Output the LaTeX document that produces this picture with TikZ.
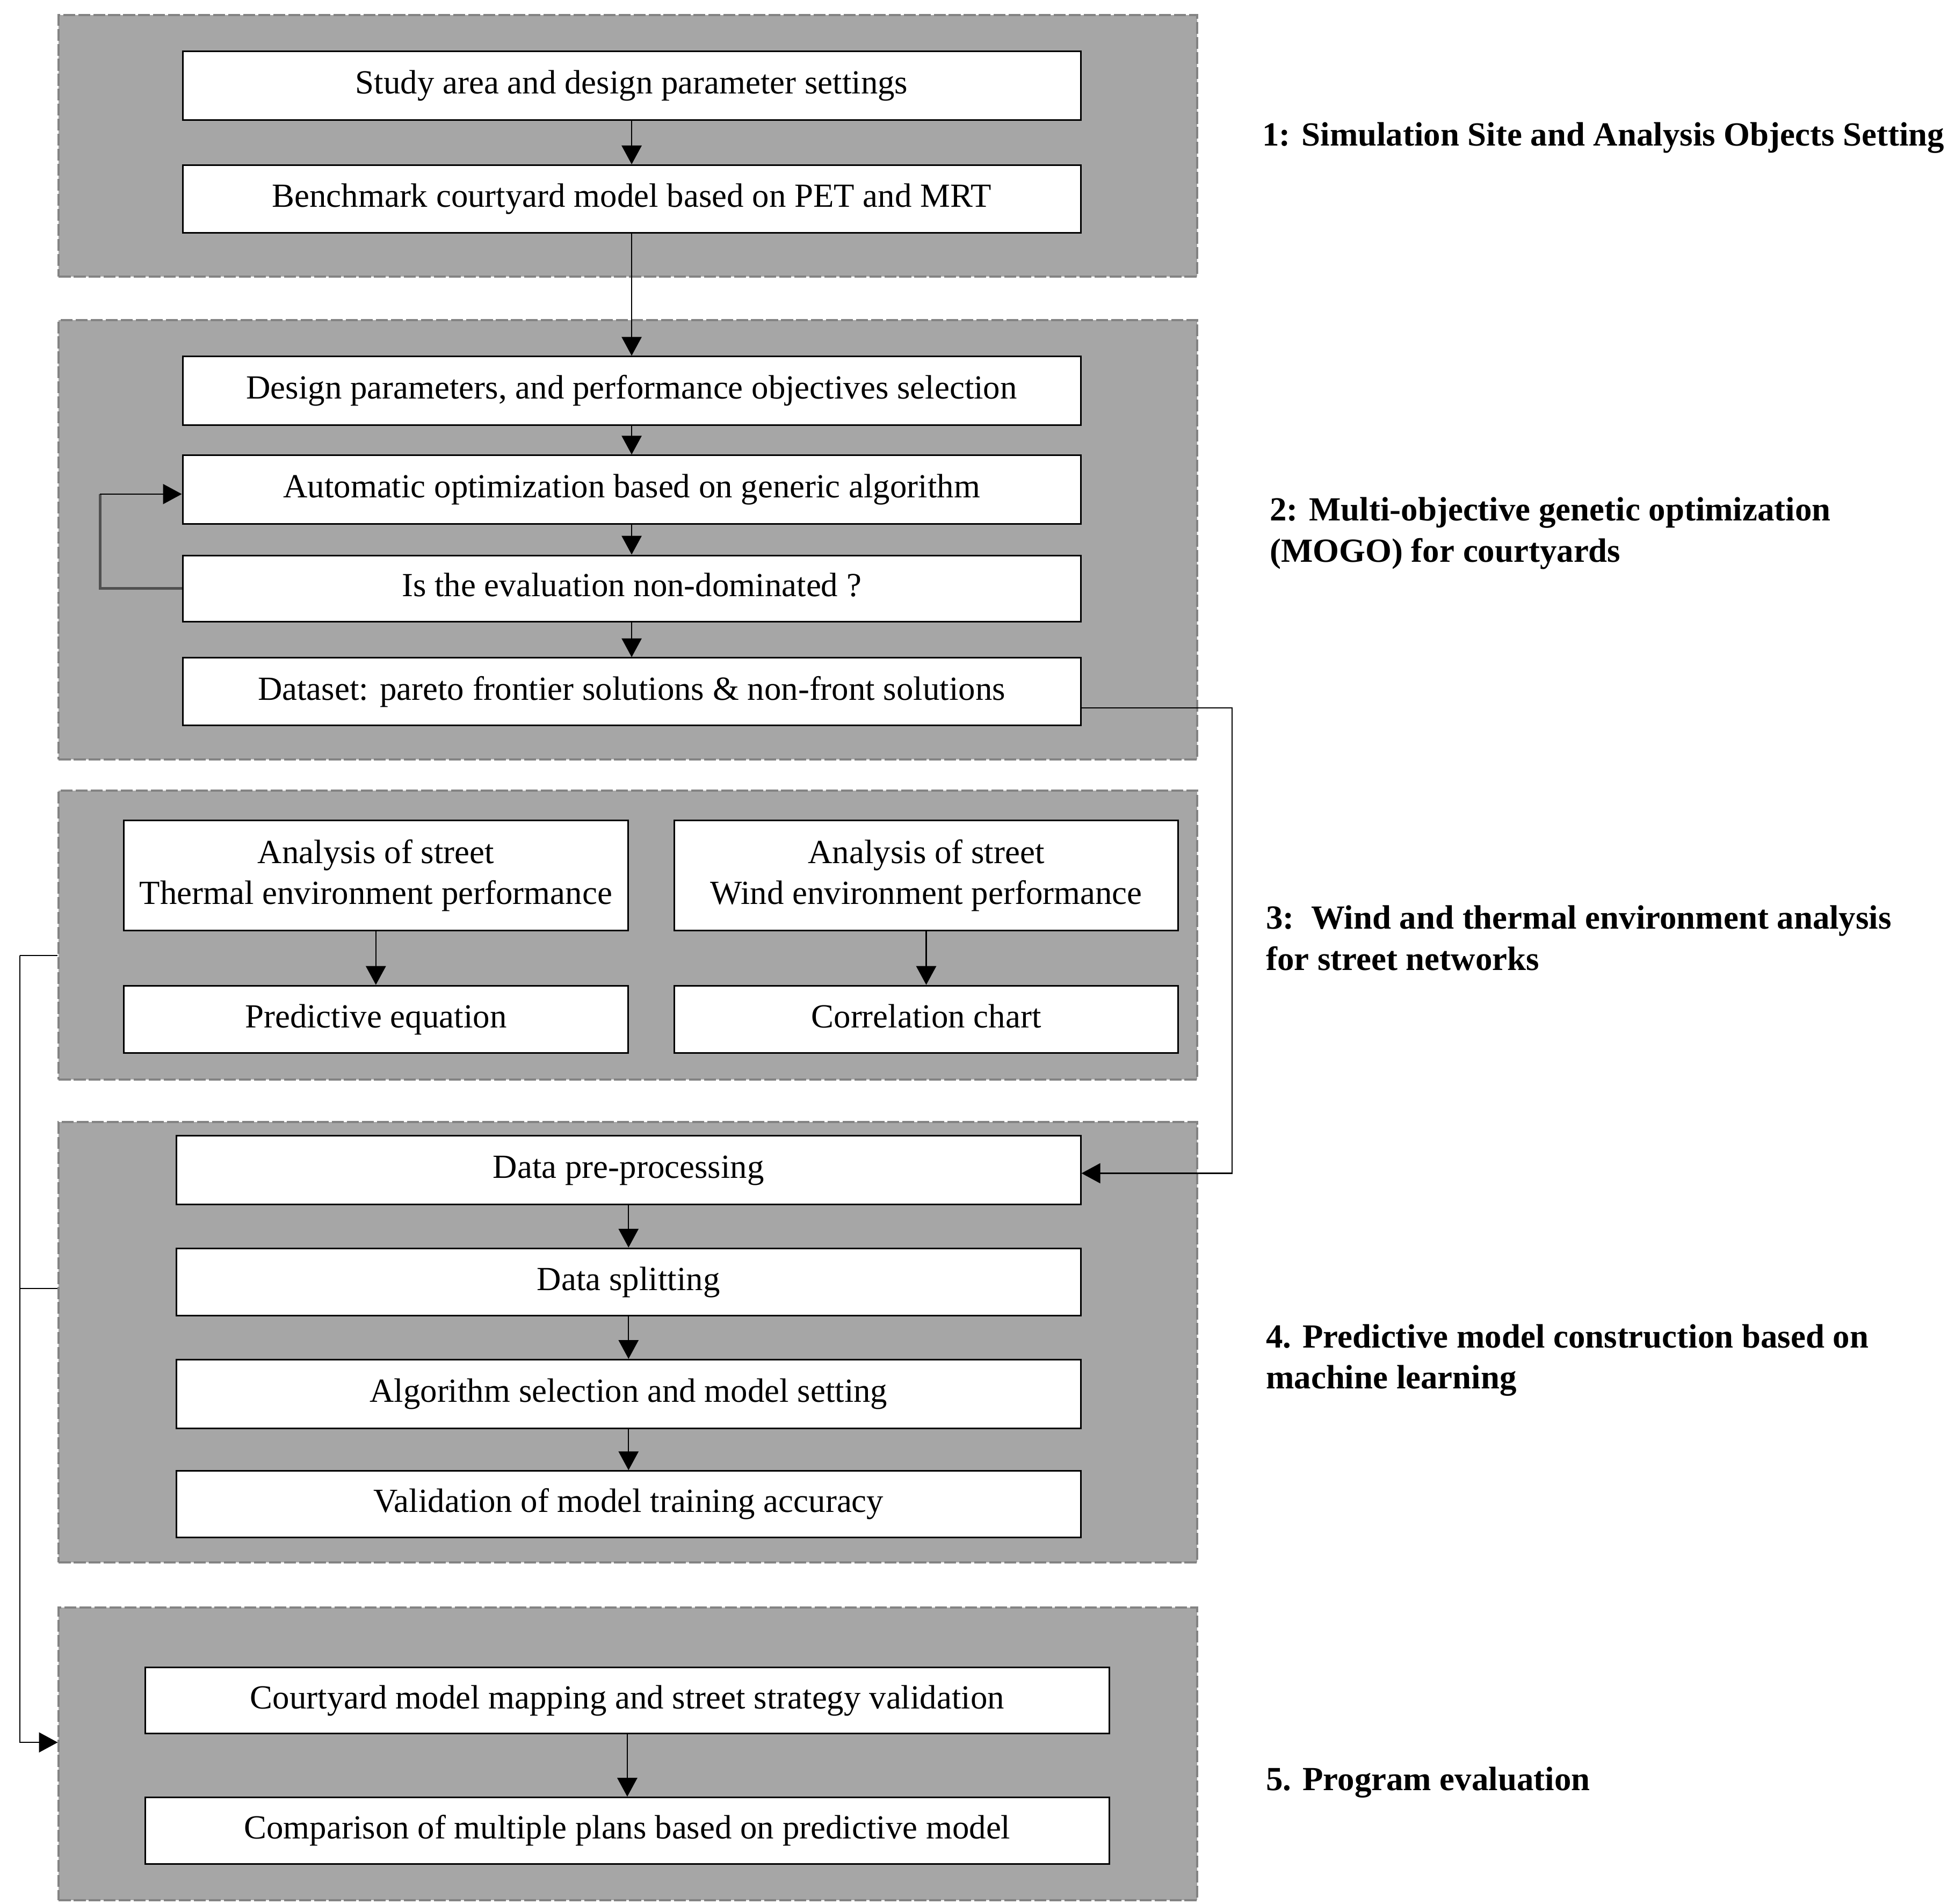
\documentclass[tikz,border=0pt]{standalone}
\usepackage{fontspec}
\setmainfont{Liberation Serif}
\usetikzlibrary{arrows.meta,calc}
\definecolor{grpfill}{HTML}{A6A6A6}
\definecolor{grpline}{HTML}{838383}
\definecolor{loopgray}{HTML}{505050}
\begin{document}
\begin{tikzpicture}[x=1pt,y=-1pt,
  grp/.style={fill=grpfill,draw=grpline,line width=1.7pt,dash pattern=on 9.5pt off 2.5pt},
  box/.style={draw=black,fill=white,line width=1.3pt,inner sep=0pt,align=center,
    font=\fontsize{27}{32.5}\selectfont},
  one/.style={text height=18.5pt,text depth=5.5pt},
  lbl/.style={anchor=west,align=left,inner sep=0pt,font=\fontsize{27}{33}\selectfont\bfseries},
  conn/.style={line width=0.9pt,draw=black},
  arr/.style={conn,-{Triangle[length=15pt,width=16pt]}}
]
\useasboundingbox (0,0) rectangle (1563,1522);
% group panels
\node[grp,minimum width=910pt,minimum height=209pt,inner sep=0pt] (g1) at (502,116.5) {};
\node[grp,minimum width=910pt,minimum height=351pt,inner sep=0pt] (g2) at (502,431.5) {};
\node[grp,minimum width=910pt,minimum height=231pt,inner sep=0pt] (g3) at (502,747.5) {};
\node[grp,minimum width=910pt,minimum height=352pt,inner sep=0pt] (g4) at (502,1073) {};
\node[grp,minimum width=910pt,minimum height=234pt,inner sep=0pt] (g5) at (502,1402) {};
% stage 1
\node[box,one,minimum width=718pt,minimum height=55pt] (s1) at (505,68.5) {Study area and design parameter settings};
\node[box,one,minimum width=718pt,minimum height=54pt] (s2) at (505,159) {Benchmark courtyard model based on PET and MRT};
% stage 2
\node[box,one,minimum width=718pt,minimum height=55pt] (d1) at (505,312.5) {Design parameters, and performance objectives selection};
\node[box,one,minimum width=718pt,minimum height=55pt] (d2) at (505,391.5) {Automatic optimization based on generic algorithm};
\node[box,one,minimum width=718pt,minimum height=53pt] (d3) at (505,470.5) {Is the evaluation non-dominated ?};
\node[box,one,minimum width=718pt,minimum height=54pt] (d4) at (505,553) {Dataset: pareto frontier solutions \& non-front solutions};
% stage 3
\node[box,minimum width=403pt,minimum height=88pt] (t1) at (300.5,700) {Analysis of street\\Thermal environment performance};
\node[box,minimum width=403pt,minimum height=88pt] (w1) at (740.5,700) {Analysis of street\\Wind environment performance};
\node[box,one,minimum width=403pt,minimum height=54pt] (t2) at (300.5,815) {Predictive equation};
\node[box,one,minimum width=403pt,minimum height=54pt] (w2) at (740.5,815) {Correlation chart};
% stage 4
\node[box,one,minimum width=723pt,minimum height=55pt] (p1) at (502.5,935.5) {Data pre-processing};
\node[box,one,minimum width=723pt,minimum height=54pt] (p2) at (502.5,1025) {Data splitting};
\node[box,one,minimum width=723pt,minimum height=55pt] (p3) at (502.5,1114.5) {Algorithm selection and model setting};
\node[box,one,minimum width=723pt,minimum height=53pt] (p4) at (502.5,1202.5) {Validation of model training accuracy};
% stage 5
\node[box,one,minimum width=771pt,minimum height=53pt] (e1) at (501.5,1359.5) {Courtyard model mapping and street strategy validation};
\node[box,one,minimum width=771pt,minimum height=53pt] (e2) at (501.5,1463.5) {Comparison of multiple plans based on predictive model};
% labels
\node[lbl] (l1) at (1009,110) {1: Simulation Site and Analysis Objects Setting};
\node[lbl] (l2) at (1015,426.5) {2: Multi-objective genetic optimization\\(MOGO) for courtyards};
\node[lbl] (l3) at (1012,750) {3:\ \ Wind and thermal environment analysis\\for street networks};
\node[lbl] (l4) at (1012,1087.5) {4. Predictive model construction based on\\machine learning};
\node[lbl] (l5) at (1012,1425) {5. Program evaluation};
% connectors
\coordinate (loopx) at (80,0);
\coordinate (rightx) at (985,0);
\coordinate (leftx) at (16,0);
\draw[arr] (s1) -- (s2);
\draw[arr] (s2) -- (d1);
\draw[arr] (d1) -- (d2);
\draw[arr] (d2) -- (d3);
\draw[arr] (d3) -- (d4);
\draw[line width=2pt,draw=loopgray] (d3.west) -- (d3.west -| loopx) -- ($(d2.west -| loopx)+(0,3.5)$);
\draw[arr] ($(d2.west -| loopx)+(0,3.5)$) -- ($(d2.west)+(0,3.5)$);
\draw[arr] ($(d4.east)+(0,13)$) -- ($(d4.east -| rightx)+(0,13)$) |- ($(p1.east)+(0,2.5)$);
\draw[arr] (t1) -- (t2);
\draw[arr] (w1) -- (w2);
\draw[arr] (p1) -- (p2);
\draw[arr] (p2) -- (p3);
\draw[arr] (p3) -- (p4);
\draw[arr] (e1) -- (e2);
\draw[conn] ($(g3.west)+(0,16.5)$) -- ($(g3.west -| leftx)+(0,16.5)$);
\draw[conn] ($(g4.west)+(0,-43)$) -- ($(g4.west -| leftx)+(0,-43)$);
\draw[arr] ($(g3.west -| leftx)+(0,16.5)$) |- ($(g5.west)+(0,-9)$);
\end{tikzpicture}
\end{document}
